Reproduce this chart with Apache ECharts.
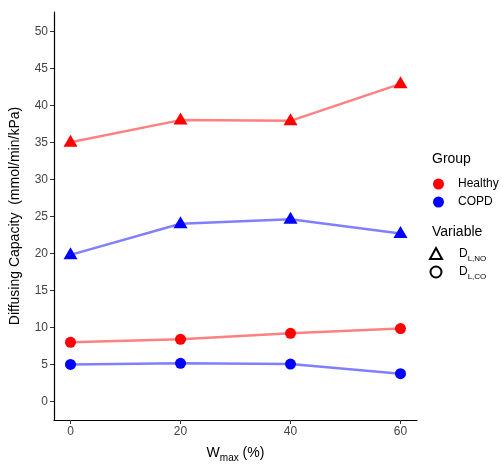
<!DOCTYPE html>
<html><head><meta charset="utf-8">
<script src="https://cdn.jsdelivr.net/npm/echarts@6/dist/echarts.min.js"></script>
<style>html,body{margin:0;padding:0;background:#fff}#c{width:504px;height:469px}</style>
</head><body><div id="c"></div>
<script>
const wmax = [0, 20, 40, 60];
const healthyNO = [35.0, 38.0, 37.9, 42.9];
const copdNO = [19.8, 24.0, 24.6, 22.7];
const healthyCO = [8.0, 8.4, 9.2, 9.85];
const copdCO = [5.0, 5.15, 5.05, 3.75];
const yTicks = [0, 5, 10, 15, 20, 25, 30, 35, 40, 45, 50];

const FONT = 'Liberation Sans, Arial, sans-serif';
const pairs = a => wmax.map((x, i) => [x, a[i]]);

function lineSeries(name, data, col, lineCol, sym, size, off) {
  return {
    name: name, type: 'line', data: pairs(data),
    symbol: sym, symbolSize: size, symbolOffset: off || [0, 0],
    showSymbol: true,
    lineStyle: { color: lineCol, width: 2.5 },
    itemStyle: { color: col },
    z: 3, silent: true
  };
}
const dummy = (name, itemStyle) => ({ name: name, type: 'scatter', data: [], itemStyle: Object.assign({ opacity: 1 }, itemStyle) });

const chart = echarts.init(document.getElementById('c'), null, { renderer: 'canvas' });
chart.setOption({
  animation: false,
  textStyle: { fontFamily: FONT },
  grid: { left: 49, right: 87, top: 12, bottom: 49, containLabel: false },
  xAxis: {
    type: 'value', min: -3, max: 63, interval: 20,
    axisLine: { onZero: false, lineStyle: { color: '#000', width: 1.2 } },
    axisTick: { show: true, length: 4, lineStyle: { color: '#333' }, customValues: wmax },
    axisLabel: { color: '#444', fontSize: 12, customValues: wmax, margin: 6 },
    splitLine: { show: false },
    name: '{m|W}{s|max}{m| (%)}', nameLocation: 'middle', nameGap: 26,
    nameTextStyle: { rich: { m: { fontSize: 14, color: '#000', fontFamily: FONT, verticalAlign: 'bottom' }, s: { fontSize: 10, color: '#000', fontFamily: FONT, verticalAlign: 'bottom', padding: [0,0,-3,0] } } }
  },
  yAxis: {
    type: 'value', min: -2.5, max: 52.6,
    axisLine: { show: true, onZero: false, lineStyle: { color: '#000', width: 1.2 } },
    axisTick: { show: true, length: 4, lineStyle: { color: '#333' }, customValues: yTicks },
    axisLabel: { color: '#444', fontSize: 12, customValues: yTicks, margin: 6 },
    splitLine: { show: false },
    name: 'Diffusing Capacity  (mmol/min/kPa)', nameLocation: 'middle', nameGap: 32,
    nameTextStyle: { fontSize: 14, color: '#000' }
  },
  legend: [
    {
      orient: 'vertical', left: 433, top: 178, itemGap: 6, padding: 0,
      data: ['Healthy', 'COPD'], icon: 'circle', itemWidth: 11, itemHeight: 11,
      textStyle: { fontSize: 12, color: '#000', padding: [0, 0, 0, 9] }, selectedMode: false
    },
    {
      orient: 'vertical', left: 429, top: 247, itemGap: 3, padding: 0,
      data: [{ name: 'DLNO', icon: 'triangle' }, { name: 'DLCO', icon: 'circle' }],
      itemWidth: 12, itemHeight: 11, selectedMode: false,
      formatter: n => n === 'DLNO' ? '{m|D}{s|L,NO}' : '{m|D}{s|L,CO}',
      textStyle: { padding: [0, 0, 0, 12], rich: { m: { fontSize: 12, color: '#000', verticalAlign: 'bottom' }, s: { fontSize: 8, color: '#000', verticalAlign: 'bottom', padding: [0,0,-3,0] } } }
    }
  ],
  graphic: [
    { type: 'text', left: 432, top: 152, style: { text: 'Group', fontSize: 14, fill: '#000', fontFamily: FONT } },
    { type: 'text', left: 432, top: 225, style: { text: 'Variable', fontSize: 14, fill: '#000', fontFamily: FONT } }
  ],
  series: [
    lineSeries('Healthy NO', healthyNO, '#ff0000', '#ff8080', 'triangle', [14, 12], [0, -1.5]),
    lineSeries('COPD NO', copdNO, '#0000ff', '#8080ff', 'triangle', [14, 12], [0, -1.5]),
    lineSeries('Healthy CO', healthyCO, '#ff0000', '#ff8080', 'circle', 11),
    lineSeries('COPD CO', copdCO, '#0000ff', '#8080ff', 'circle', 11),
    dummy('Healthy', { color: '#ff0000' }),
    dummy('COPD', { color: '#0000ff' }),
    dummy('DLNO', { color: '#fff', borderColor: '#000', borderWidth: 1 }),
    dummy('DLCO', { color: '#fff', borderColor: '#000', borderWidth: 1 })
  ]
});
</script></body></html>
